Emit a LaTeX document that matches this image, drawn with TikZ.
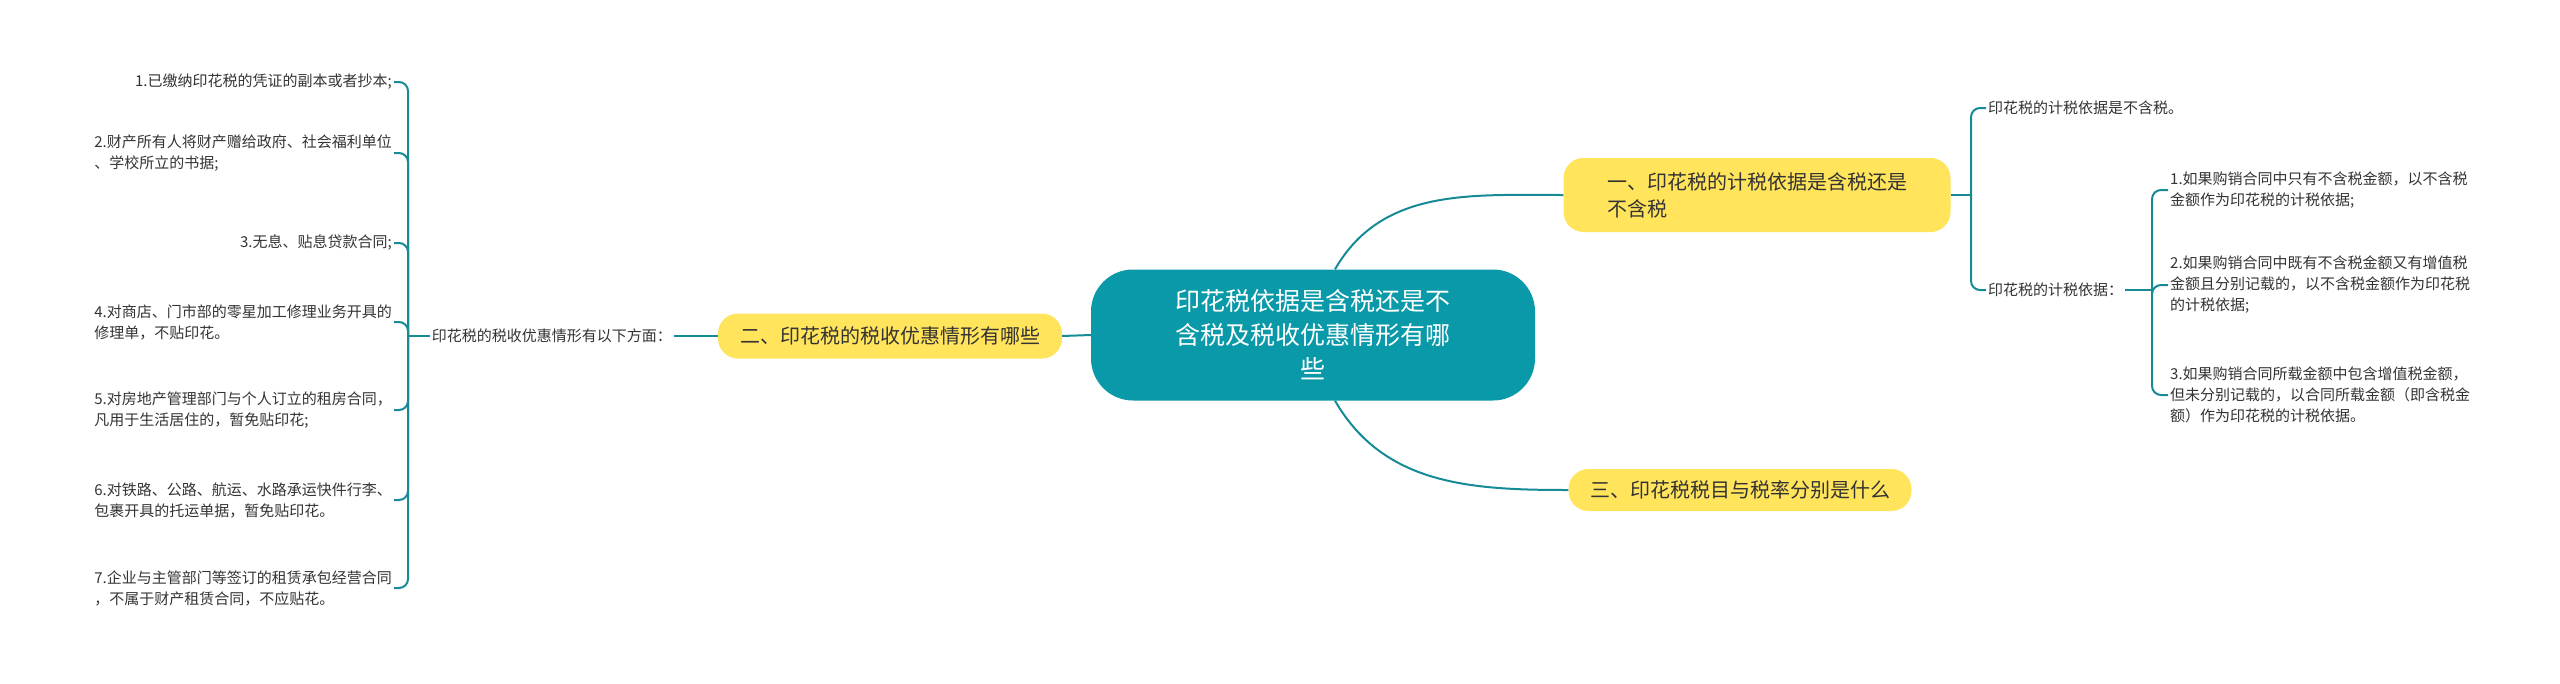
\documentclass[tikz,border=0pt]{standalone}
\usepackage{fontspec}
\setmainfont{Noto Sans CJK SC}
\begin{document}
\begin{tikzpicture}[x=1pt,y=-1pt,
  line/.style={draw={rgb,255:red,22;green,139;blue,150},line width=2pt},
  leaf/.style={font=\fontsize{15}{21}\selectfont,text={rgb,255:red,51;green,51;blue,51},inner sep=2pt},
  branch/.style={fill={rgb,255:red,255;green,228;blue,92},rounded corners=20pt,font=\fontsize{20}{27}\selectfont,text={rgb,255:red,51;green,51;blue,51},inner xsep=14pt,inner ysep=8pt}]
\useasboundingbox (0,0) rectangle (2560,683);
\node[fill={rgb,255:red,10;green,153;blue,168},rounded corners=42pt,minimum width=444pt,minimum height=131pt,text=white,font=\fontsize{25}{34}\selectfont,align=center] (c) at (1313,335) {印花税依据是含税还是不\\含税及税收优惠情形有哪\\些};
\node[branch,align=left,minimum width=387pt,minimum height=74pt] (b1) at (1757,195) {一、印花税的计税依据是含税还是\\不含税};
\node[branch,minimum width=344pt,minimum height=45pt] (b2) at (890,336) {二、印花税的税收优惠情形有哪些};
\node[branch,minimum width=343pt,minimum height=42pt] (b3) at (1740,490) {三、印花税税目与税率分别是什么};
\draw[line] ([xshift=22pt]c.north) to[out=60,in=180] (b1.west);
\draw[line] ([xshift=22pt]c.south) to[out=-60,in=180] (b3.west);
\draw[line] (c.west) -- (b2.east);
% right
\node[leaf,anchor=west] (r1) at (1986,108) {印花税的计税依据是不含税。};
\node[leaf,anchor=west] (r2) at (1986,290) {印花税的计税依据：};
\draw[line] (b1.east) -- (1971,195) coordinate (rs);
\draw[line,rounded corners=9pt] (rs) |- (r1.west);
\draw[line,rounded corners=9pt] (rs) |- (r2.west);
\node[leaf,anchor=west,align=left] (s1) at (2168,190) {1.如果购销合同中只有不含税金额，以不含税\\金额作为印花税的计税依据;};
\node[leaf,anchor=west,align=left] (s2) at (2168,285) {2.如果购销合同中既有不含税金额又有增值税\\金额且分别记载的，以不含税金额作为印花税\\的计税依据;};
\node[leaf,anchor=west,align=left] (s3) at (2168,395) {3.如果购销合同所载金额中包含增值税金额，\\但未分别记载的，以合同所载金额（即含税金\\额）作为印花税的计税依据。};
\draw[line] (r2.east) -- (2152,290) coordinate (ss);
\draw[line,rounded corners=9pt] (ss) |- (s1.west);
\draw[line,rounded corners=9pt] (ss) |- (s2.west);
\draw[line,rounded corners=9pt] (ss) |- (s3.west);
% left
\node[leaf,anchor=east] (lab) at (674,336) {印花税的税收优惠情形有以下方面：};
\draw[line] (b2.west) -- (lab.east);
\draw[line] (lab.west) -- (408,336) coordinate (ls);
\node[leaf,anchor=east,align=right] (l1) at (394,82) {1.已缴纳印花税的凭证的副本或者抄本;};
\node[leaf,anchor=east,align=left] (l2) at (394,153) {2.财产所有人将财产赠给政府、社会福利单位\\、学校所立的书据;};
\node[leaf,anchor=east,align=right] (l3) at (394,243) {3.无息、贴息贷款合同;};
\node[leaf,anchor=east,align=left] (l4) at (394,322) {4.对商店、门市部的零星加工修理业务开具的\\修理单，不贴印花。};
\node[leaf,anchor=east,align=left] (l5) at (394,410) {5.对房地产管理部门与个人订立的租房合同，\\凡用于生活居住的，暂免贴印花;};
\node[leaf,anchor=east,align=left] (l6) at (394,500) {6.对铁路、公路、航运、水路承运快件行李、\\包裹开具的托运单据，暂免贴印花。};
\node[leaf,anchor=east,align=left] (l7) at (394,588) {7.企业与主管部门等签订的租赁承包经营合同\\，不属于财产租赁合同，不应贴花。};
\foreach \n in {l1,l2,l3,l4,l5,l6,l7}
  \draw[line,rounded corners=9pt] (ls) |- (\n.east);
\end{tikzpicture}
\end{document}
